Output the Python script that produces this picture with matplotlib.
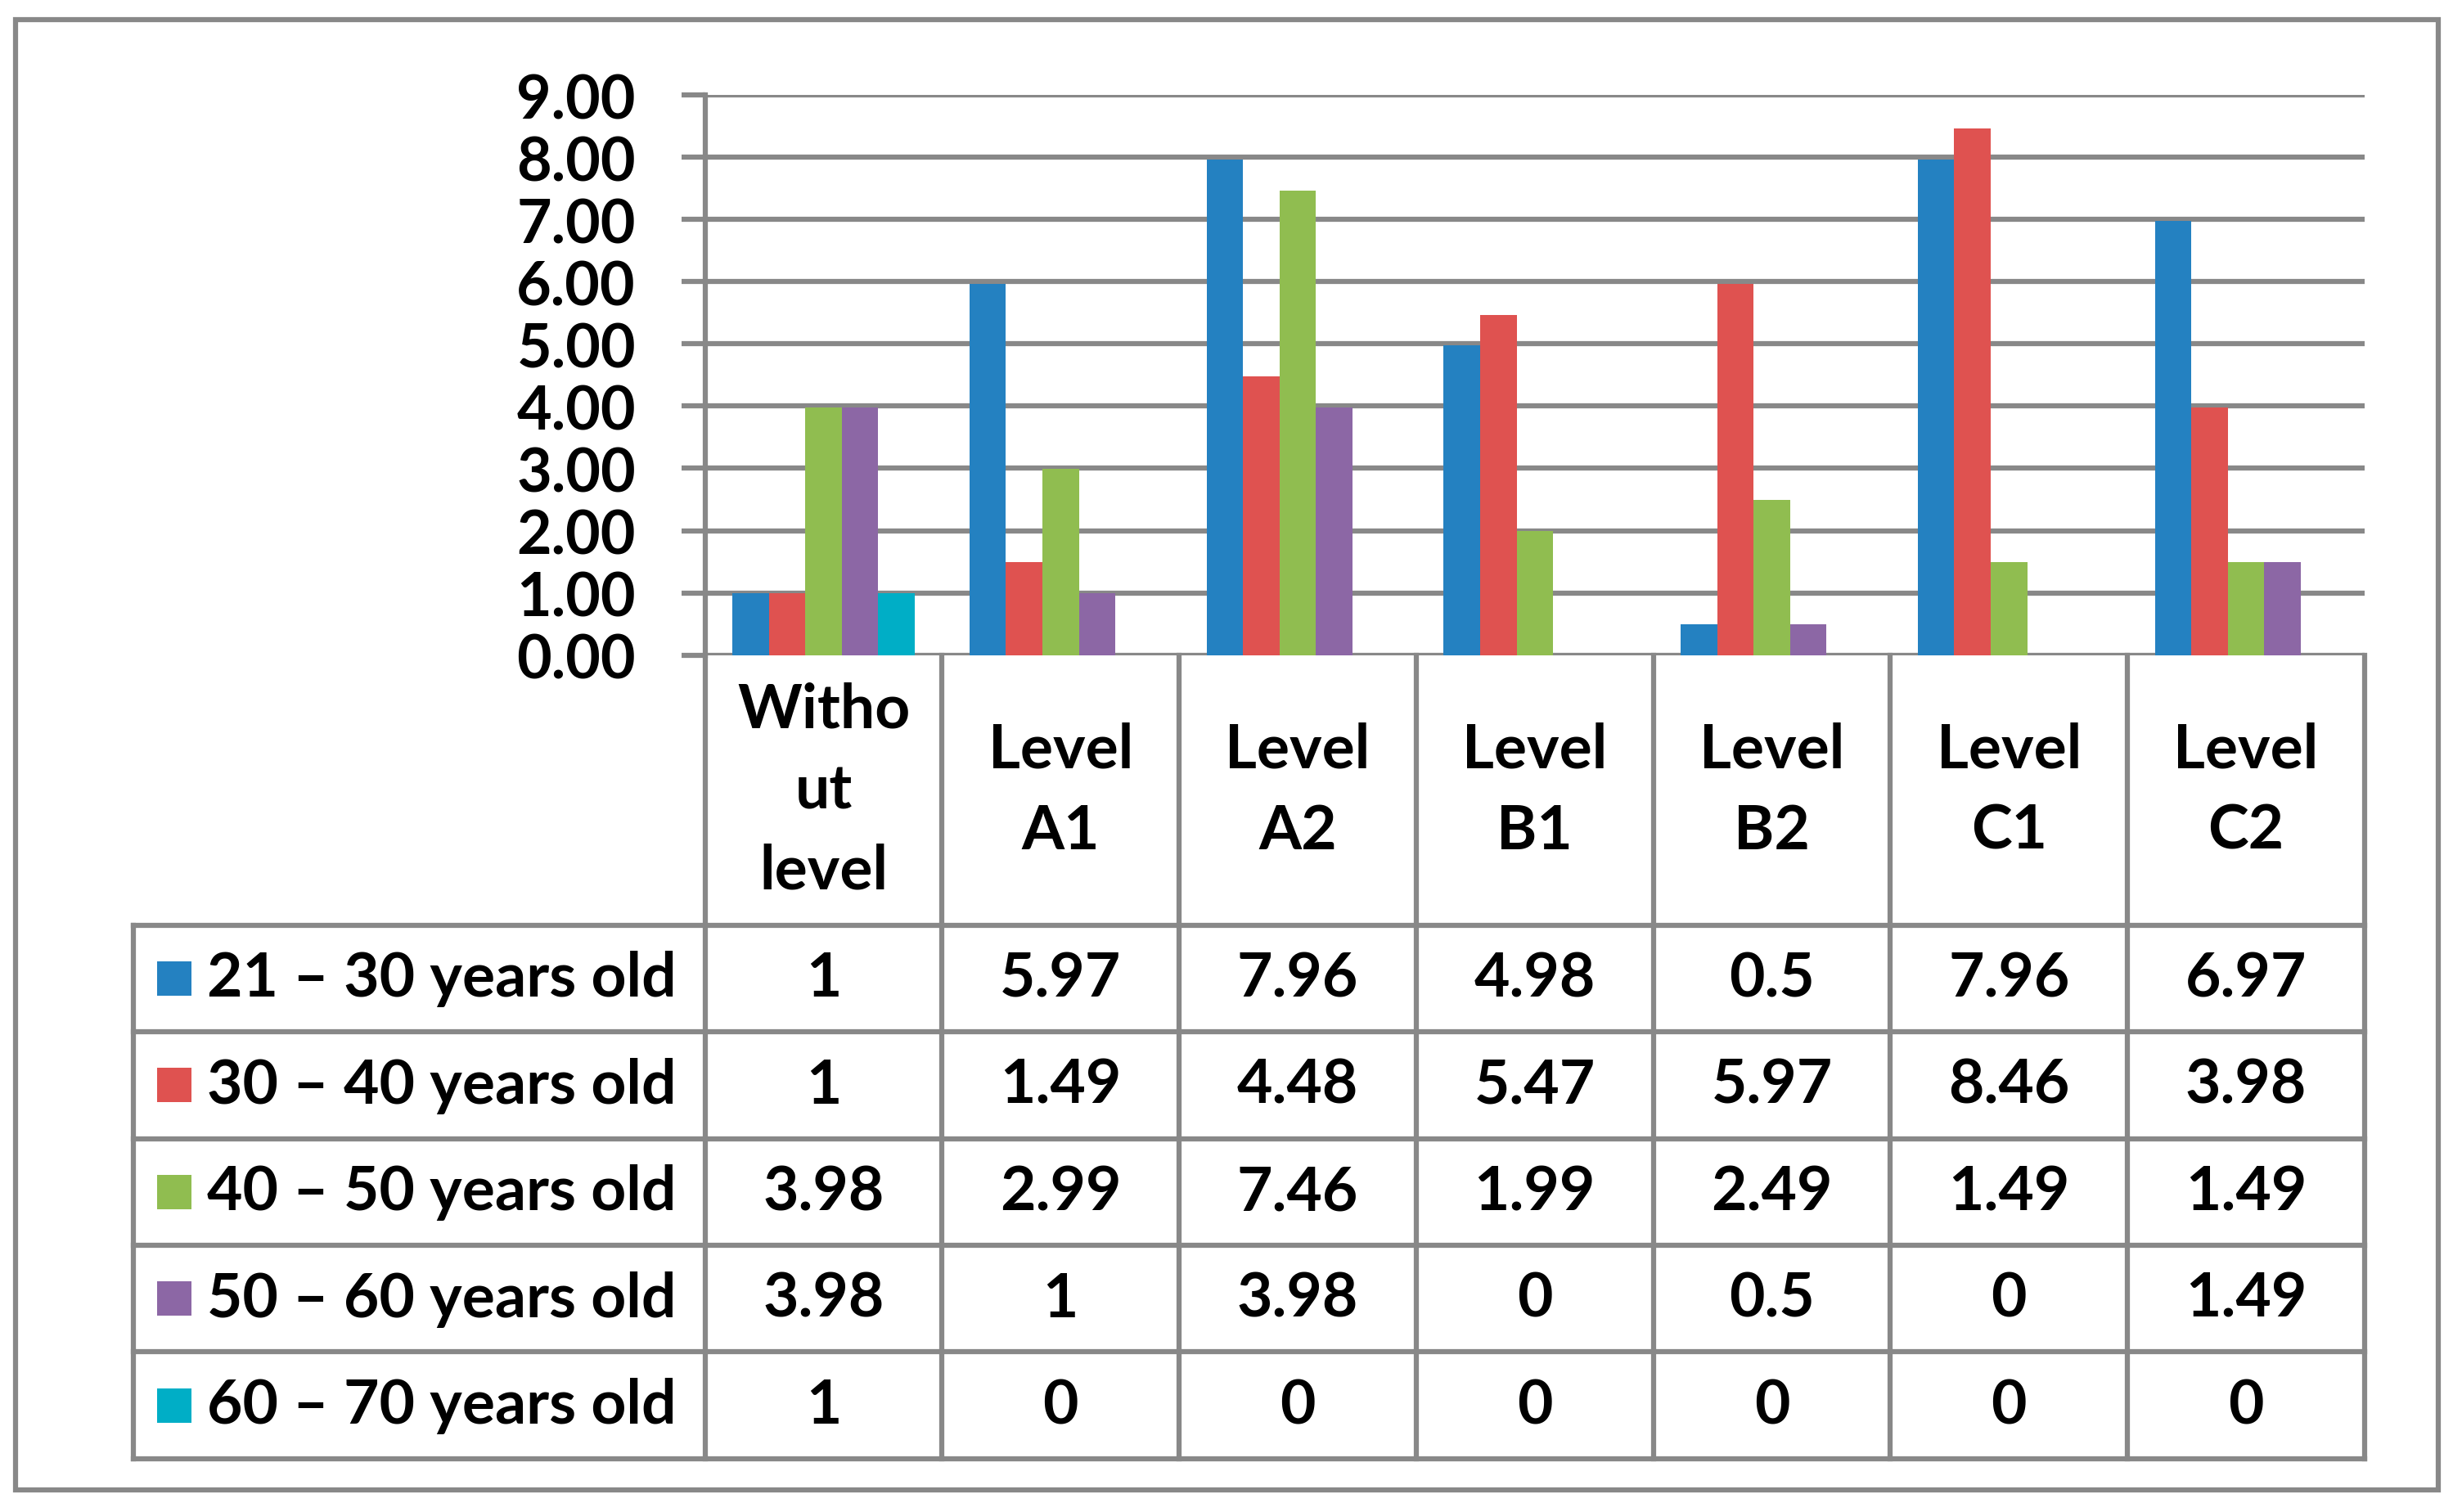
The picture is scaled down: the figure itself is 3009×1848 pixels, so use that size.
import matplotlib.pyplot as plt
from matplotlib.patches import Rectangle

categories = ["Witho\nut\nlevel", "Level\nA1", "Level\nA2", "Level\nB1",
              "Level\nB2", "Level\nC1", "Level\nC2"]
series_names = ["21 – 30 years old", "30 – 40 years old", "40 – 50 years old",
                "50 – 60 years old", "60 – 70 years old"]
age_21_30 = [1, 5.97, 7.96, 4.98, 0.5, 7.96, 6.97]
age_30_40 = [1, 1.49, 4.48, 5.47, 5.97, 8.46, 3.98]
age_40_50 = [3.98, 2.99, 7.46, 1.99, 2.49, 1.49, 1.49]
age_50_60 = [3.98, 1, 3.98, 0, 0.5, 0, 1.49]
age_60_70 = [1, 0, 0, 0, 0, 0, 0]
series = [age_21_30, age_30_40, age_40_50, age_50_60, age_60_70]
colors = ["#2481C1", "#DF5250", "#90BD50", "#8C67A5", "#00AEC6"]
y_ticks = [0, 1, 2, 3, 4, 5, 6, 7, 8, 9]

GRAY = "#888888"
LW = 4.5
FS = 54
plt.rcParams["font.family"] = ["Lato", "DejaVu Sans"]

# layout measured on a 1568x964 copy of the target
W, H = 1568.0, 964.0
plot_l, plot_r, plot_t, plot_b = 449, 1506, 61, 418
table_b = 930
header_h, row_h = 172, 68
col_w = (plot_r - plot_l) / len(categories)

fig = plt.figure(figsize=(30.09, 18.49), dpi=100)
fig.patches.append(Rectangle((10 / W, 1 - 950 / H), (1553 - 10) / W, (950 - 13) / H,
                             transform=fig.transFigure, fill=False,
                             edgecolor=GRAY, lw=LW))

ax = fig.add_axes([plot_l / W, 1 - plot_b / H, (plot_r - plot_l) / W, (plot_b - plot_t) / H])
n = len(series)
width = 1 / (n + 1.5)
x = list(range(len(categories)))
for i, (vals, c) in enumerate(zip(series, colors)):
    ax.bar([xi + (i - (n - 1) / 2) * width for xi in x], vals, width=width,
           color=c, zorder=3)
ax.set_xlim(-0.5, len(categories) - 0.5)
ax.set_ylim(0, 9)
ax.set_yticks(y_ticks)
ax.set_yticklabels([f"{v:.2f}" for v in y_ticks], fontsize=53, fontweight="bold")
ax.set_xticks([])
ax.tick_params(axis="y", direction="out", length=21, width=LW, color=GRAY, pad=40)
ax.yaxis.grid(True, color=GRAY, lw=LW, zorder=1)
ax.set_axisbelow(True)
for s in ["top", "right", "bottom"]:
    ax.spines[s].set_visible(False)
ax.spines["left"].set_color(GRAY)
ax.spines["left"].set_linewidth(LW)

# data table under the chart
tab = fig.add_axes([plot_l / W, 1 - table_b / H, (plot_r - plot_l) / W, (table_b - plot_b) / H])
tab.set_xlim(-0.5, len(categories) - 0.5)
total_h = header_h + n * row_h
tab.set_ylim(total_h, 0)
tab.axis("off")
leg_l = -0.5 - (plot_l - 85) / col_w

kw = dict(color=GRAY, lw=LW, clip_on=False, solid_capstyle="projecting")
for k in range(len(categories) + 1):
    tab.plot([k - 0.5, k - 0.5], [0, total_h], **kw)
tab.plot([leg_l, leg_l], [header_h, total_h], **kw)
for r in range(n + 1):
    yy = header_h + r * row_h
    tab.plot([leg_l, len(categories) - 0.5], [yy, yy], **kw)

for xi, cat in zip(x, categories):
    tab.text(xi, header_h / 2, cat, ha="center", va="center", fontsize=FS,
             fontweight="bold", linespacing=1.53)

for r, (name, vals, c) in enumerate(zip(series_names, series, colors)):
    yc = header_h + (r + 0.5) * row_h
    tab.scatter([leg_l + (111 - 85) / col_w], [yc], marker="s", s=880, color=c,
                clip_on=False, linewidths=0)
    tab.text(leg_l + (132 - 85) / col_w, yc, name, ha="left", va="center",
             fontsize=FS, fontweight="bold")
    for xi, v in zip(x, vals):
        tab.text(xi, yc, f"{v:g}", ha="center", va="center", fontsize=FS,
                 fontweight="bold")

fig.savefig("out.png", dpi=100)
